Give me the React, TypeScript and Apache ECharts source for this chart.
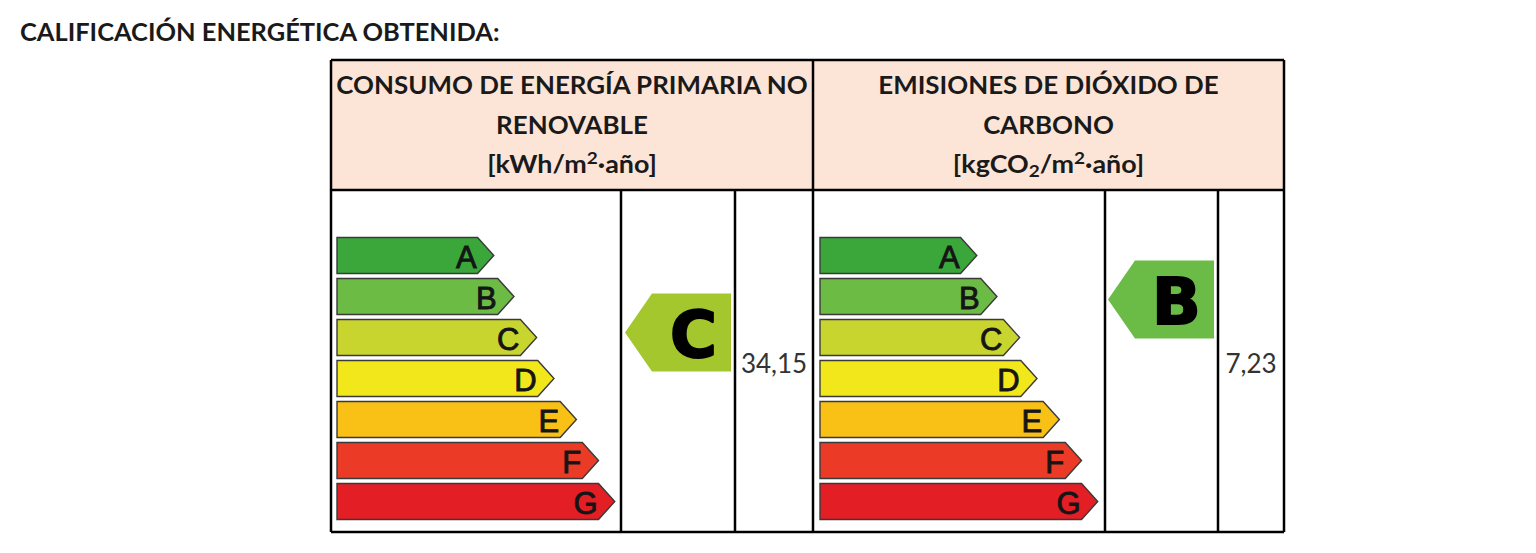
import React, { useEffect, useRef } from "react";
import * as echarts from "echarts";

// ---- data ----
const grades = ["A", "B", "C", "D", "E", "F", "G"];
const gradeColors = ["#3ba73b", "#6cbb45", "#c9d52f", "#f1e71b", "#f9c016", "#eb3b26", "#e31e25"];
const gradeLengths = [56, 63.2, 71.3, 77.5, 85.5, 93.4, 99.2]; // relative arrow length (% of column)
const panelTitleLines = [
  ["CONSUMO DE ENERGÍA PRIMARIA NO", "RENOVABLE"],
  ["EMISIONES DE DIÓXIDO DE", "CARBONO"],
];
const panelUnits = [
  "{u|[kWh/m}{sup|2}{u|·año]}",
  "{u|[kgCO}{sub|2}{u|/m}{sup|2}{u|·año]}",
];
const ratings = ["C", "B"];
const ratingColors = ["#a3c72c", "#6bbb47"];
const values = [34.15, 7.23];
const mainTitle = "CALIFICACIÓN ENERGÉTICA OBTENIDA:";

const HEAD_FONT = "Lato";

export default function App() {
  const ref = useRef<HTMLDivElement>(null);

  useEffect(() => {
    if (!ref.current) return;
    const chart = echarts.init(ref.current, null, { renderer: "svg" });

    const gridTop = 235;
    const gridH = 287;
    const grids = [
      { left: 337, top: gridTop, width: 280, height: gridH },
      { left: 820, top: gridTop, width: 280, height: gridH },
      { left: 625, top: gridTop, width: 106, height: gridH },
      { left: 1108, top: gridTop, width: 106, height: gridH },
    ];
    const xAxes = grids.map((_, i) => ({
      type: "value",
      gridIndex: i,
      min: 0,
      max: i < 2 ? 100 : 1,
      show: false,
    }));
    const yAxes = grids.map((_, i) => ({
      type: "category",
      gridIndex: i,
      data: grades,
      inverse: true,
      show: false,
    }));

    const barRender = (params: any, api: any) => {
      const len = api.value(0);
      const cat = api.value(1);
      const s = api.coord([0, cat]);
      const e = api.coord([len, cat]);
      const band = api.size([0, 1])[1];
      const h = band * 0.88;
      const d = h * 0.45;
      const cy = s[1];
      const top = cy - h / 2;
      const bot = cy + h / 2;
      const x0 = s[0];
      const x1 = e[0];
      return {
        type: "group",
        children: [
          {
            type: "polygon",
            shape: { points: [[x0, top], [x1 - d, top], [x1, cy], [x1 - d, bot], [x0, bot]] },
            style: { fill: gradeColors[params.dataIndex], stroke: "#3a3a3a", lineWidth: 1.4 },
          },
          {
            type: "text",
            x: x1 - d - 1,
            y: cy + 2,
            style: {
              text: grades[params.dataIndex],
              fill: "#151515",
              stroke: "#151515",
              lineWidth: 0.9,
              fontFamily: "Liberation Sans",
              fontSize: 31,
              align: "right",
              verticalAlign: "middle",
              textAlign: "right",
              textVerticalAlign: "middle",
            },
          },
        ],
      };
    };

    const indRender = (idx: number, dy: number) => (params: any, api: any) => {
      const cat = api.value(1);
      const s = api.coord([0, cat]);
      const e = api.coord([1, cat]);
      const cy = s[1] + dy;
      const h = 78;
      const x0 = s[0];
      const x1 = e[0];
      const slant = 27;
      return {
        type: "group",
        children: [
          {
            type: "polygon",
            shape: {
              points: [[x0, cy], [x0 + slant, cy - h / 2], [x1, cy - h / 2], [x1, cy + h / 2], [x0 + slant, cy + h / 2]],
            },
            style: { fill: ratingColors[idx] },
          },
          {
            type: "text",
            x: x0 + slant + (x1 - x0 - slant) / 2 + 2,
            y: cy + 2,
            style: {
              text: ratings[idx],
              fill: "#000",
              stroke: "#000",
              lineWidth: 2,
              fontFamily: "DejaVu Sans",
              fontWeight: "bold",
              fontSize: 64,
              align: "center",
              verticalAlign: "middle",
              textAlign: "center",
              textVerticalAlign: "middle",
            },
          },
        ],
      };
    };

    const barData = grades.map((g, i) => [gradeLengths[i], g]);

    const series: any[] = [
      { type: "custom", xAxisIndex: 0, yAxisIndex: 0, data: barData, renderItem: barRender, encode: { x: 0, y: 1 }, clip: false },
      { type: "custom", xAxisIndex: 1, yAxisIndex: 1, data: barData, renderItem: barRender, encode: { x: 0, y: 1 }, clip: false },
      { type: "custom", xAxisIndex: 2, yAxisIndex: 2, data: [[1, ratings[0]]], renderItem: indRender(0, -5), encode: { x: 0, y: 1 }, clip: false },
      { type: "custom", xAxisIndex: 3, yAxisIndex: 3, data: [[1, ratings[1]]], renderItem: indRender(1, 3), encode: { x: 0, y: 1 }, clip: false },
    ];

    // table geometry
    const L = 331, R = 1284, T = 60, B = 532, HB = 190, MID = 813;
    const cols = [621, 735, 1105, 1218];
    const lw = 2.5;
    const line = (x1: number, y1: number, x2: number, y2: number) => ({
      type: "line",
      shape: { x1, y1, x2, y2 },
      style: { stroke: "#000", lineWidth: lw },
      z: 10,
    });

    const headerCenters = [(L + MID) / 2, (MID + R) / 2];
    const headerTexts: any[] = [];
    panelTitleLines.forEach((lines, p) => {
      lines.forEach((t, li) => {
        headerTexts.push({
          type: "text",
          x: headerCenters[p],
          y: 84 + li * 40,
          scaleX: 1.08,
          z: 11,
          style: {
            text: t,
            fill: "#1a1a1a",
            fontFamily: HEAD_FONT,
            fontWeight: "bold",
            fontSize: 24,
            align: "center",
            verticalAlign: "middle",
            textAlign: "center",
            textVerticalAlign: "middle",
          },
        });
      });
      headerTexts.push({
        type: "text",
        x: headerCenters[p],
        y: 164,
        scaleX: 1.12,
        z: 11,
        style: {
          text: panelUnits[p],
          fill: "#1a1a1a",
          align: "center",
          verticalAlign: "middle",
          textAlign: "center",
          textVerticalAlign: "middle",
          rich: {
            u: { fontFamily: HEAD_FONT, fontWeight: "bold", fontSize: 24, lineHeight: 30, fill: "#1a1a1a" },
            sup: { fontFamily: HEAD_FONT, fontWeight: "bold", fontSize: 17, lineHeight: 20, verticalAlign: "top", fill: "#1a1a1a" },
            sub: { fontFamily: HEAD_FONT, fontWeight: "bold", fontSize: 17, lineHeight: 18, verticalAlign: "bottom", fill: "#1a1a1a" },
          },
        },
      });
    });

    const valueCenters = [(cols[1] + MID) / 2, (cols[3] + R) / 2];
    const valueTexts = values.map((v, i) => ({
      type: "text",
      x: valueCenters[i],
      y: 363,
      z: 11,
      style: {
        text: v.toFixed(2).replace(".", ","),
        fill: "#333",
        fontFamily: "Lato",
        fontSize: 26,
        align: "center",
        verticalAlign: "middle",
        textAlign: "center",
        textVerticalAlign: "middle",
      },
    }));

    const option: any = {
      animation: false,
      backgroundColor: "#fff",
      grid: grids,
      xAxis: xAxes,
      yAxis: yAxes,
      series,
      graphic: {
        elements: [
          {
            type: "text",
            x: 20,
            y: 32,
            scaleX: 1.06,
            style: {
              text: mainTitle,
              fill: "#1a1a1a",
              fontFamily: HEAD_FONT,
              fontWeight: "bold",
              fontSize: 24,
              align: "left",
              verticalAlign: "middle",
              textAlign: "left",
              textVerticalAlign: "middle",
            },
          },
          {
            type: "rect",
            shape: { x: L, y: T, width: R - L, height: HB - T },
            style: { fill: "#fce5d7" },
            z: 0,
          },
          line(L, T, R, T),
          line(L, B, R, B),
          line(L, T, L, B),
          line(R, T, R, B),
          line(MID, T, MID, B),
          line(L, HB, R, HB),
          ...cols.map((c) => line(c, HB, c, B)),
          ...headerTexts,
          ...valueTexts,
        ],
      },
    };

    chart.setOption(option);
    return () => chart.dispose();
  }, []);

  return (
    <div
      ref={ref}
      style={{ position: "fixed", left: 0, top: 0, width: 1536, height: 553, background: "#fff" }}
    />
  );
}
